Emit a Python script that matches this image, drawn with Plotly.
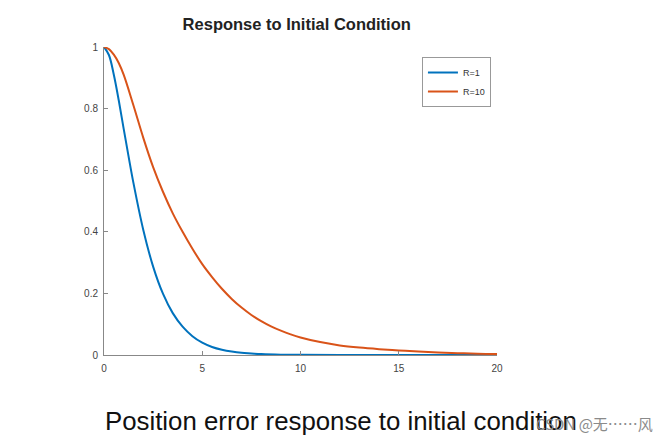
import plotly.graph_objects as go

# Time samples and responses
t_r1 = [0, 0.25, 0.5, 0.75, 1, 1.25, 1.5, 2, 2.5, 3, 3.5, 4, 4.5, 5, 5.5, 6, 6.5, 7, 7.5, 8,
        9, 10, 12, 15, 20]
y_r1 = [1.000, 0.974, 0.910, 0.827, 0.735, 0.645, 0.558, 0.406, 0.287, 0.199, 0.136, 0.092,
        0.061, 0.040, 0.026, 0.017, 0.011, 0.007, 0.005, 0.003, 0.001, 0.0005, 0.0001, 0.0, 0.0]

t_r10 = [0, 0.25, 0.5, 0.75, 1, 1.5, 2, 2.5, 3, 3.5, 4, 4.5, 5, 5.5, 6, 6.5, 7, 7.5, 8, 8.5,
         9, 9.5, 10, 11, 12, 13, 14, 15, 16, 17, 18, 19, 20]
y_r10 = [1.0, 0.993, 0.975, 0.948, 0.91, 0.81, 0.705, 0.61, 0.53, 0.46, 0.40, 0.345, 0.295,
         0.253, 0.215, 0.182, 0.154, 0.130, 0.110, 0.093, 0.079, 0.067, 0.057, 0.042, 0.031,
         0.024, 0.019, 0.015, 0.011, 0.008, 0.006, 0.004, 0.003]

x_ticks = [0, 5, 10, 15, 20]
y_ticks = [0, 0.2, 0.4, 0.6, 0.8, 1]
y_tick_text = ["0", "0.2", "0.4", "0.6", "0.8", "1"]

title_text = "Response to Initial Condition"
caption_text = "Position error response to initial condition"
watermark_text = "CSDN @无……风"

fig = go.Figure()
fig.add_trace(go.Scatter(x=t_r1, y=y_r1, mode="lines", name="R=1",
                         line=dict(color="#0072BD", width=2, shape="spline", smoothing=1)))
fig.add_trace(go.Scatter(x=t_r10, y=y_r10, mode="lines", name="R=10",
                         line=dict(color="#D95319", width=2, shape="spline", smoothing=1)))

axis_common = dict(showgrid=False, zeroline=False, showline=True, linecolor="#888888",
                   linewidth=1, ticks="inside", ticklen=4, tickcolor="#888888",
                   tickfont=dict(family="Liberation Sans, Arial", size=10, color="#444444"))

fig.update_layout(
    width=663, height=435,
    margin=dict(l=96, r=174, t=39, b=88),
    paper_bgcolor="white", plot_bgcolor="white",
    title=dict(text="<b>" + title_text + "</b>", x=0.4355, xanchor="center", y=0.963, yanchor="middle",
               font=dict(family="Liberation Sans, Arial", size=16.5, color="#222222")),
    xaxis=dict(range=[0, 20], tickvals=x_ticks, ticklabelstandoff=4, **axis_common),
    yaxis=dict(range=[0, 1], tickvals=y_ticks, ticktext=y_tick_text, ticklabelstandoff=3,
               **axis_common),
    legend=dict(x=0.809, y=0.9675, xanchor="left", yanchor="top",
                bgcolor="white", bordercolor="#999999", borderwidth=1,
                font=dict(family="Liberation Sans, Arial", size=9, color="#333333"),
                itemwidth=30, tracegroupgap=0),
    showlegend=True,
)

fig.add_annotation(text=caption_text, xref="paper", yref="paper",
                   x=-0.003, y=-0.214, xanchor="left", yanchor="middle", showarrow=False,
                   font=dict(family="Liberation Sans, Arial", size=25.8, color="#111111"))
fig.add_annotation(text=watermark_text, xref="paper", yref="paper",
                   x=1.402, y=-0.221, xanchor="right", yanchor="middle", showarrow=False,
                   font=dict(family="Noto Sans CJK SC, Liberation Sans", size=15, color="#8a8a8a"))

fig.write_html("out.html")
